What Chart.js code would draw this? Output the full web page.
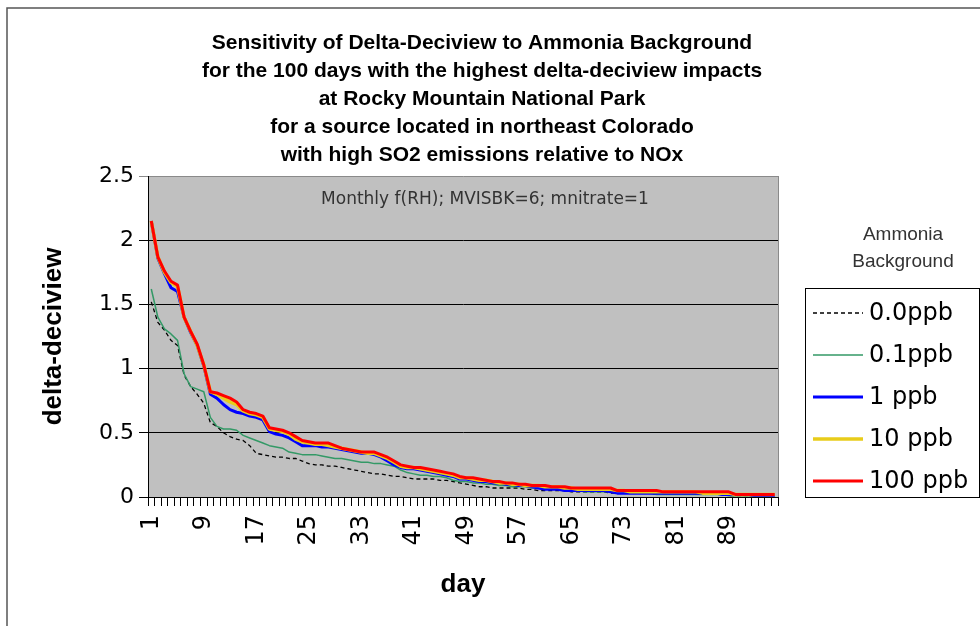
<!DOCTYPE html>
<html>
<head>
<meta charset="utf-8">
<title>Sensitivity of Delta-Deciview to Ammonia Background</title>
<script src="https://cdn.jsdelivr.net/npm/chart.js@4.4.1/dist/chart.umd.min.js"></script>
<style>
  html, body { margin: 0; padding: 0; background: #fff; }
  #wrap { width: 980px; height: 626px; }
</style>
</head>
<body>
<div id="wrap"><canvas id="ddvChart" width="980" height="626"></canvas></div>
<script>
'use strict';
//=================Data===================//
var titleLines = [
  'Sensitivity of Delta-Deciview to Ammonia Background',
  'for the 100 days with the highest delta-deciview impacts',
  'at Rocky Mountain National Park',
  'for a source located in northeast Colorado',
  'with high SO2 emissions relative to NOx'
];
var noteText = 'Monthly f(RH); MVISBK=6; mnitrate=1';
var legendTitle = ['Ammonia', 'Background'];
var yTicks = [0, 0.5, 1, 1.5, 2, 2.5];

// day index on the category axis, a label every 8th day
var dayCount = 96;
var days = [];
for (var d = 1; d <= dayCount; d++) { days.push(String(d)); }

var nh3_0ppb = [
  1.52, 1.36, 1.30, 1.22, 1.18, 0.95, 0.86, 0.80, 0.73, 0.58,
  0.55, 0.50, 0.47, 0.45, 0.44, 0.40, 0.34, 0.33, 0.32, 0.31,
  0.31, 0.30, 0.30, 0.28, 0.26, 0.25, 0.25, 0.24, 0.24, 0.23,
  0.22, 0.21, 0.20, 0.19, 0.18, 0.18, 0.17, 0.16, 0.16, 0.15,
  0.14, 0.14, 0.14, 0.14, 0.13, 0.13, 0.12, 0.11, 0.10, 0.09,
  0.08, 0.08, 0.07, 0.07, 0.07, 0.07, 0.07, 0.06, 0.06, 0.05,
  0.05, 0.05, 0.05, 0.05, 0.04, 0.04, 0.04, 0.04, 0.04, 0.04,
  0.03, 0.03, 0.03, 0.03, 0.03, 0.03, 0.03, 0.02, 0.02, 0.02,
  0.02, 0.02, 0.02, 0.02, 0.02, 0.02, 0.02, 0.02, 0.01, 0.01,
  0.01, 0.01, 0.01, 0.01, 0.01, 0.01
];
var nh3_01ppb = [
  1.62, 1.40, 1.31, 1.27, 1.22, 0.96, 0.86, 0.84, 0.82, 0.62,
  0.55, 0.53, 0.53, 0.52, 0.48, 0.46, 0.44, 0.42, 0.40, 0.39,
  0.38, 0.35, 0.34, 0.33, 0.33, 0.33, 0.32, 0.31, 0.30, 0.30,
  0.29, 0.28, 0.27, 0.27, 0.26, 0.26, 0.25, 0.24, 0.21, 0.19,
  0.18, 0.17, 0.17, 0.16, 0.16, 0.15, 0.13, 0.12, 0.12, 0.11,
  0.11, 0.10, 0.10, 0.09, 0.09, 0.08, 0.08, 0.08, 0.07, 0.07,
  0.06, 0.06, 0.06, 0.05, 0.05, 0.05, 0.04, 0.04, 0.04, 0.04,
  0.04, 0.03, 0.03, 0.03, 0.03, 0.03, 0.03, 0.02, 0.02, 0.02,
  0.02, 0.02, 0.02, 0.02, 0.02, 0.02, 0.02, 0.02, 0.01, 0.01,
  0.01, 0.01, 0.01, 0.01, 0.01, 0.01
];
var nh3_1ppb = [
  2.15, 1.86, 1.74, 1.63, 1.60, 1.40, 1.28, 1.18, 1.02, 0.80,
  0.77, 0.72, 0.68, 0.66, 0.65, 0.63, 0.62, 0.60, 0.51, 0.49,
  0.48, 0.46, 0.43, 0.40, 0.40, 0.40, 0.39, 0.39, 0.38, 0.37,
  0.36, 0.35, 0.34, 0.34, 0.33, 0.31, 0.28, 0.25, 0.23, 0.22,
  0.22, 0.21, 0.20, 0.19, 0.18, 0.17, 0.16, 0.14, 0.14, 0.13,
  0.12, 0.12, 0.11, 0.11, 0.10, 0.10, 0.09, 0.09, 0.08, 0.07,
  0.06, 0.06, 0.06, 0.05, 0.05, 0.05, 0.05, 0.05, 0.05, 0.05,
  0.04, 0.03, 0.03, 0.03, 0.03, 0.03, 0.03, 0.03, 0.03, 0.03,
  0.03, 0.03, 0.03, 0.03, 0.03, 0.03, 0.03, 0.02, 0.02, 0.02,
  0.02, 0.02, 0.01, 0.01, 0.01, 0.01
];
var nh3_10ppb = [
  2.15, 1.87, 1.75, 1.67, 1.64, 1.40, 1.29, 1.18, 1.03, 0.82,
  0.80, 0.77, 0.74, 0.72, 0.67, 0.65, 0.64, 0.62, 0.53, 0.52,
  0.51, 0.49, 0.45, 0.43, 0.42, 0.41, 0.41, 0.40, 0.39, 0.38,
  0.37, 0.36, 0.35, 0.34, 0.34, 0.32, 0.30, 0.27, 0.24, 0.23,
  0.23, 0.22, 0.21, 0.20, 0.19, 0.18, 0.17, 0.15, 0.15, 0.14,
  0.13, 0.13, 0.12, 0.11, 0.11, 0.10, 0.10, 0.09, 0.09, 0.09,
  0.08, 0.08, 0.08, 0.07, 0.07, 0.06, 0.06, 0.06, 0.06, 0.06,
  0.06, 0.05, 0.05, 0.04, 0.04, 0.04, 0.04, 0.04, 0.04, 0.04,
  0.04, 0.04, 0.04, 0.04, 0.03, 0.03, 0.03, 0.03, 0.03, 0.02,
  0.02, 0.02, 0.02, 0.02, 0.02, 0.02
];
var nh3_100ppb = [
  2.15, 1.87, 1.76, 1.68, 1.65, 1.40, 1.29, 1.19, 1.03, 0.82,
  0.81, 0.79, 0.77, 0.74, 0.68, 0.66, 0.65, 0.63, 0.54, 0.53,
  0.52, 0.50, 0.47, 0.44, 0.43, 0.42, 0.42, 0.42, 0.40, 0.38,
  0.37, 0.36, 0.35, 0.35, 0.35, 0.33, 0.31, 0.28, 0.25, 0.24,
  0.23, 0.23, 0.22, 0.21, 0.20, 0.19, 0.18, 0.16, 0.15, 0.15,
  0.14, 0.13, 0.12, 0.12, 0.11, 0.11, 0.10, 0.10, 0.09, 0.09,
  0.09, 0.08, 0.08, 0.08, 0.07, 0.07, 0.07, 0.07, 0.07, 0.07,
  0.07, 0.05, 0.05, 0.05, 0.05, 0.05, 0.05, 0.05, 0.04, 0.04,
  0.04, 0.04, 0.04, 0.04, 0.04, 0.04, 0.04, 0.04, 0.04, 0.02,
  0.02, 0.02, 0.02, 0.02, 0.02, 0.02
];

//=================Decor plugin==================//
// plot background, outer frame, title block, note and the boxed legend
var chartDecor = {
  id: 'chartDecor',
  beforeDraw: function(chart) {
    var ctx = chart.ctx;
    var a = chart.chartArea;
    ctx.save();
    ctx.fillStyle = '#ffffff';
    ctx.fillRect(0, 0, chart.width, chart.height);
    ctx.strokeStyle = '#555555';
    ctx.lineWidth = 1.5;
    ctx.beginPath();
    ctx.moveTo(7, chart.height);
    ctx.lineTo(7, 8);
    ctx.lineTo(chart.width, 8);
    ctx.stroke();
    ctx.fillStyle = '#c0c0c0';
    ctx.fillRect(a.left, a.top, a.right - a.left, a.bottom - a.top);
    ctx.strokeStyle = '#8a8a8a';
    ctx.lineWidth = 1;
    ctx.beginPath();
    ctx.moveTo(a.right + 0.5, a.top);
    ctx.lineTo(a.right + 0.5, a.bottom);
    ctx.stroke();
    ctx.restore();
  },
  afterDraw: function(chart) {
    var ctx = chart.ctx;
    var a = chart.chartArea;
    ctx.save();
    ctx.textAlign = 'center';
    ctx.textBaseline = 'middle';

    // title
    ctx.fillStyle = '#000';
    ctx.font = 'bold 21px "Liberation Sans", Arial, sans-serif';
    for (var i = 0; i < titleLines.length; i++) {
      ctx.fillText(titleLines[i], 482, 43 + i * 28);
    }

    // note inside plot
    ctx.fillStyle = '#333';
    ctx.font = '17px "DejaVu Sans", sans-serif';
    ctx.fillText(noteText, (a.left + a.right) / 2 + 22, a.top + 24);

    // legend title
    ctx.fillStyle = '#333';
    ctx.font = '19px "Liberation Sans", Arial, sans-serif';
    ctx.fillText(legendTitle[0], 903, 235);
    ctx.fillText(legendTitle[1], 903, 262);

    // legend box
    var boxLeft = 805, boxTop = 288, boxRight = 979, boxBottom = a.bottom;
    ctx.fillStyle = '#ffffff';
    ctx.fillRect(boxLeft, boxTop, boxRight - boxLeft, boxBottom - boxTop);
    ctx.strokeStyle = '#000';
    ctx.lineWidth = 1;
    ctx.strokeRect(boxLeft + 0.5, boxTop + 0.5, boxRight - boxLeft, boxBottom - boxTop);

    ctx.textAlign = 'left';
    ctx.font = '24px "DejaVu Sans", sans-serif';
    var sets = chart.data.datasets;
    for (var j = 0; j < sets.length; j++) {
      var y = 313 + j * 42;
      ctx.save();
      ctx.strokeStyle = sets[j].borderColor;
      ctx.lineWidth = sets[j].borderWidth;
      ctx.setLineDash(sets[j].borderDash || []);
      ctx.beginPath();
      ctx.moveTo(813, y);
      ctx.lineTo(863, y);
      ctx.stroke();
      ctx.restore();
      ctx.fillStyle = '#000';
      ctx.fillText(sets[j].label, 869, y + 1);
    }
    ctx.restore();
  }
};

//=================Chart==================//
var ctx = document.getElementById('ddvChart').getContext('2d');
var ddvChart = new Chart(ctx, {
  type: 'line',
  data: {
    labels: days,
    datasets: [{
      label: '0.0ppb',
      data: nh3_0ppb,
      borderColor: '#000000',
      borderWidth: 1.3,
      borderDash: [4, 3],
      order: 5
    }, {
      label: '0.1ppb',
      data: nh3_01ppb,
      borderColor: '#339966',
      borderWidth: 1.5,
      order: 4
    }, {
      label: '1 ppb',
      data: nh3_1ppb,
      borderColor: '#0000ff',
      borderWidth: 3,
      order: 3
    }, {
      label: '10 ppb',
      data: nh3_10ppb,
      borderColor: '#e8cc1a',
      borderWidth: 3.5,
      order: 2
    }, {
      label: '100 ppb',
      data: nh3_100ppb,
      borderColor: '#ff0000',
      borderWidth: 3,
      order: 1
    }]
  },
  options: {
    responsive: false,
    animation: false,
    devicePixelRatio: 1,
    layout: { padding: { left: 30, top: 176, right: 202, bottom: 0 } },
    elements: {
      point: { radius: 0 },
      line: { tension: 0, fill: false, borderJoinStyle: 'round' }
    },
    plugins: {
      legend: { display: false },
      title: { display: false },
      tooltip: { enabled: false }
    },
    scales: {
      x: {
        type: 'category',
        offset: true,
        afterFit: function(scale) { scale.height = 129; },
        grid: {
          offset: true,
          drawOnChartArea: false,
          drawTicks: true,
          tickLength: 9,
          color: '#000'
        },
        border: { display: true, color: '#000', width: 1 },
        ticks: {
          autoSkip: false,
          maxRotation: 90,
          minRotation: 90,
          padding: 9,
          color: '#000',
          font: { family: '"DejaVu Sans", sans-serif', size: 24 },
          callback: function(value, index) {
            return index % 8 === 0 ? this.getLabelForValue(value) : '';
          }
        },
        title: {
          display: true,
          text: 'day',
          color: '#000',
          font: { family: '"Liberation Sans", Arial, sans-serif', size: 26, weight: 'bold' },
          padding: { top: 0, bottom: 26 }
        }
      },
      y: {
        min: yTicks[0],
        max: yTicks[yTicks.length - 1],
        afterFit: function(scale) { scale.width = 118; },
        afterBuildTicks: function(scale) {
          scale.ticks = yTicks.map(function(v) { return { value: v }; });
        },
        grid: {
          color: function(c) { return c.tick && c.tick.value === 2.5 ? '#8a8a8a' : '#000'; },
          lineWidth: 1,
          drawTicks: true,
          tickLength: 9
        },
        border: { display: true, color: '#000', width: 1 },
        ticks: {
          padding: 5,
          color: '#000',
          font: { family: '"DejaVu Sans", sans-serif', size: 22 },
          callback: function(value) { return String(value); }
        },
        title: {
          display: true,
          text: 'delta-deciview',
          color: '#000',
          font: { family: '"Liberation Sans", Arial, sans-serif', size: 26, weight: 'bold' },
          padding: { top: 8, bottom: 0 }
        }
      }
    }
  },
  plugins: [chartDecor]
});
</script>
</body>
</html>
